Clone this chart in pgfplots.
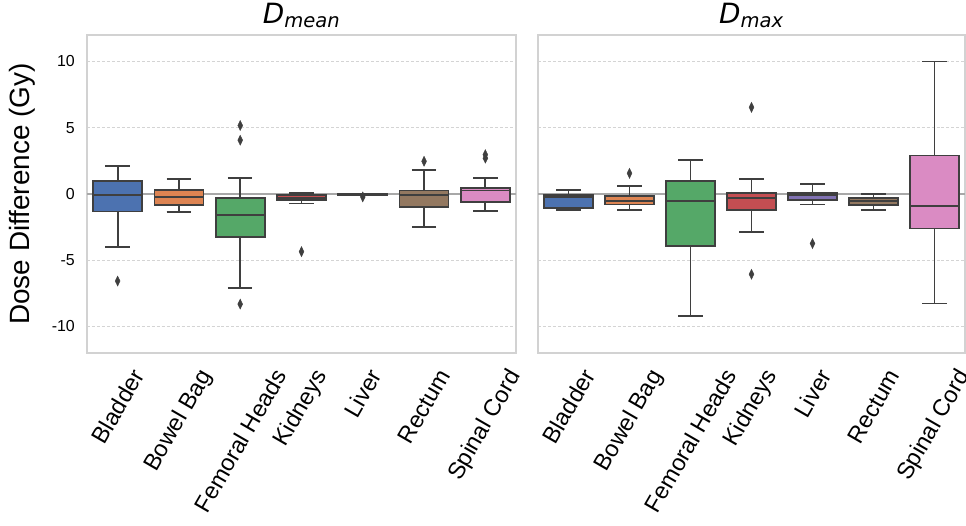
\documentclass[border=0pt]{standalone}
\usepackage{fontspec}
\setmainfont{Liberation Sans}
\newfontfamily\djv{DejaVu Sans}
\usepackage{graphicx}
\usepackage{pgfplots}
\pgfplotsset{compat=1.18}
\usepgfplotslibrary{statistics}
\definecolor{c1}{HTML}{4C72B0}
\definecolor{c2}{HTML}{DD8452}
\definecolor{c3}{HTML}{55A868}
\definecolor{c4}{HTML}{C44E52}
\definecolor{c5}{HTML}{8172B3}
\definecolor{c6}{HTML}{937860}
\definecolor{c7}{HTML}{DA8BC3}
\definecolor{edge}{HTML}{3F3F3F}
\definecolor{framec}{HTML}{D2D2D2}
\definecolor{gridc}{HTML}{D4D4D4}
\definecolor{zeroc}{HTML}{A8A8A8}
\pgfplotsset{
  panel/.style={
    scale only axis, height=318bp,
    xmin=-0.5, xmax=6.5, ymin=-12, ymax=12,
    xtick={0,...,6},
    xticklabels={\rotatebox{60}{Bladder},\rotatebox{60}{Bowel Bag},\rotatebox{60}{Femoral Heads},\rotatebox{60}{Kidneys},\rotatebox{60}{Liver},\rotatebox{60}{Rectum},\rotatebox{60}{Spinal Cord}},
    xticklabel style={font=\fontsize{23.5}{26}\selectfont, anchor=north, inner sep=0pt, yshift=-14bp},
    ytick={-10,-5,5,10}, extra y ticks={0},
    ymajorgrids, grid style={gridc, line width=0.9pt, dash pattern=on 3pt off 2pt},
    extra y tick style={grid style={solid, zeroc, line width=1.3pt}},
    major tick length=0pt,
    axis line style={framec, line width=1.2pt},
    yticklabel style={font=\fontsize{16}{18}\selectfont, inner sep=0pt, xshift=-12bp},
    /pgf/number format/assume math mode=true,
    title style={font=\fontsize{28}{30}\selectfont, yshift=-2bp},
    boxplot/draw direction=y,
    boxplot/box extend=0.8,
    boxplot/whisker extend=0.4,
    boxplot/every whisker/.style={draw=edge, line width=1.8pt, solid},
    boxplot/every median/.style={draw=edge, line width=1.8pt, solid},
    boxplot/every box/.style={draw=edge, line width=1.8pt, solid},
  },
  bx/.style={draw=edge, line width=1.8pt, solid, mark=diamond*, mark size=5bp,
    mark options={solid, fill=edge, draw=edge, line width=0.4pt, xscale=0.65}},
}
\begin{document}
\begin{tikzpicture}
\useasboundingbox (-87bp,-173bp) rectangle (879bp,353bp);
\begin{axis}[panel, width=429bp,
  title={\djv\itshape D\textsubscript{mean}},
  ylabel={Dose Difference (Gy)},
  ylabel style={font=\fontsize{28}{30}\selectfont, at={(axis description cs:-0.112,0.5)}, anchor=south, rotate=0},
]
\addplot[bx, fill=c1, boxplot prepared={draw position=0, lower whisker=-3.99, lower quartile=-1.32, median=-0.1, upper quartile=1.0, upper whisker=2.12}]
  table[row sep=\\, y index=0] {d\\ -6.57\\};
\addplot[bx, fill=c2, boxplot prepared={draw position=1, lower whisker=-1.34, lower quartile=-0.84, median=-0.23, upper quartile=0.28, upper whisker=1.13}]
  coordinates {};
\addplot[bx, fill=c3, boxplot prepared={draw position=2, lower whisker=-7.07, lower quartile=-3.23, median=-1.6, upper quartile=-0.33, upper whisker=1.21}]
  table[row sep=\\, y index=0] {d\\ 5.17\\ 4.06\\ -8.31\\};
\addplot[bx, fill=c4, boxplot prepared={draw position=3, lower whisker=-0.72, lower quartile=-0.45, median=-0.3, upper quartile=-0.1, upper whisker=0.08}]
  table[row sep=\\, y index=0] {d\\ -4.35\\};
\addplot[bx, fill=c5, boxplot prepared={draw position=4, lower whisker=-0.12, lower quartile=-0.08, median=-0.05, upper quartile=-0.02, upper whisker=0.02}]
  table[row sep=\\, y index=0] {d\\ -0.22\\};
\addplot[bx, fill=c6, boxplot prepared={draw position=5, lower whisker=-2.5, lower quartile=-0.96, median=-0.1, upper quartile=0.27, upper whisker=1.82}]
  table[row sep=\\, y index=0] {d\\ 2.47\\};
\addplot[bx, fill=c7, boxplot prepared={draw position=6, lower whisker=-1.27, lower quartile=-0.58, median=0.27, upper quartile=0.48, upper whisker=1.23}]
  table[row sep=\\, y index=0] {d\\ 2.97\\ 2.7\\};
\end{axis}
\begin{axis}[panel, width=427bp, at={(451bp,0)},
  title={\djv\itshape D\textsubscript{max}},
  yticklabels={}, extra y tick labels={},
]
\addplot[bx, fill=c1, boxplot prepared={draw position=0, lower whisker=-1.21, lower quartile=-1.04, median=-0.25, upper quartile=-0.1, upper whisker=0.33}]
  coordinates {};
\addplot[bx, fill=c2, boxplot prepared={draw position=1, lower whisker=-1.21, lower quartile=-0.79, median=-0.51, upper quartile=-0.18, upper whisker=0.58}]
  table[row sep=\\, y index=0] {d\\ 1.56\\};
\addplot[bx, fill=c3, boxplot prepared={draw position=2, lower whisker=-9.19, lower quartile=-3.92, median=-0.51, upper quartile=0.96, upper whisker=2.55}]
  coordinates {};
\addplot[bx, fill=c4, boxplot prepared={draw position=3, lower whisker=-2.86, lower quartile=-1.19, median=-0.3, upper quartile=0.07, upper whisker=1.16}]
  table[row sep=\\, y index=0] {d\\ 6.54\\ -6.06\\};
\addplot[bx, fill=c5, boxplot prepared={draw position=4, lower whisker=-0.79, lower quartile=-0.43, median=-0.1, upper quartile=0.07, upper whisker=0.78}]
  table[row sep=\\, y index=0] {d\\ -3.74\\};
\addplot[bx, fill=c6, boxplot prepared={draw position=5, lower whisker=-1.21, lower quartile=-0.86, median=-0.55, upper quartile=-0.3, upper whisker=0.0}]
  coordinates {};
\addplot[bx, fill=c7, boxplot prepared={draw position=6, lower whisker=-8.26, lower quartile=-2.6, median=-0.89, upper quartile=2.9, upper whisker=10.0}]
  coordinates {};
\end{axis}
\end{tikzpicture}
\end{document}
